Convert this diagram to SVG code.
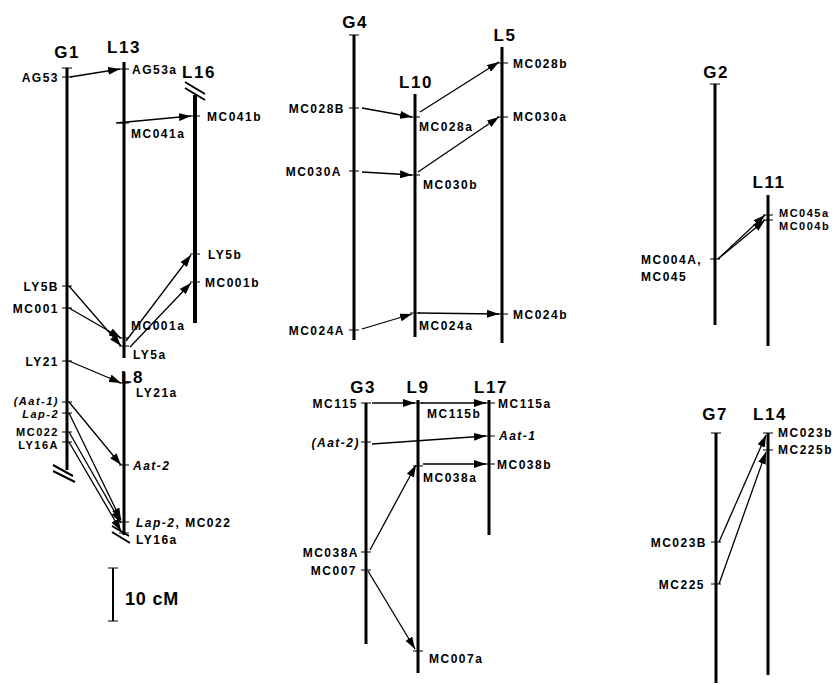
<svg xmlns="http://www.w3.org/2000/svg" width="836" height="685" viewBox="0 0 836 685">
<defs>
<marker id="ah" markerUnits="userSpaceOnUse" markerWidth="13" markerHeight="8" refX="12" refY="4" orient="auto">
<path d="M0,0 L12,4 L0,8 z" fill="#000"/>
</marker>
</defs>
<style>
.chr{stroke:#000;stroke-width:3;fill:none}
.tk{stroke:#000;stroke-width:1;fill:none}
.br{stroke:#000;stroke-width:2;fill:none}
.cn{stroke:#000;stroke-width:1.3;fill:none;marker-end:url(#ah)}
.t{font-family:"Liberation Sans",Arial,sans-serif;font-weight:bold;font-size:17px;letter-spacing:1.5px;text-anchor:middle;fill:#000}
.m{font-family:"Liberation Sans",Arial,sans-serif;font-weight:bold;font-size:12px;letter-spacing:1.5px;fill:#000}
.s{font-size:11px}
.e{text-anchor:end}
.i{font-style:italic}
</style>
<rect width="836" height="685" fill="#fff"/>

<g id="G1">
<line class="chr" x1="67" y1="68" x2="67" y2="470"/>
<text class="t" x="67" y="58">G1</text>
<path class="tk" d="M62,68h10M62,77h10M62,286h10M62,308h10M62,361h10M62,402h10M62,413h10M62,432h10M62,442h10"/>
<path class="br" d="M53,465l20,11M53,471l22,11"/>
<text class="m e" x="59" y="82">AG53</text>
<text class="m e" x="59" y="291">LY5B</text>
<text class="m e" x="59" y="313">MC001</text>
<text class="m e" x="59" y="366">LY21</text>
<text class="m s e i" x="59" y="405">(Aat-1)</text>
<text class="m s e i" x="59" y="418">Lap-2</text>
<text class="m s e" x="59" y="436">MC022</text>
<text class="m s e" x="59" y="449">LY16A</text>
</g>

<g id="L13">
<line class="chr" x1="124" y1="62" x2="124" y2="358"/>
<text class="t" x="124" y="53">L13</text>
<path class="tk" d="M119,69h10M119,123h10M119,338h10M119,346h10"/>
<text class="m" x="132" y="74">AG53a</text>
<text class="m" x="131" y="138">MC041a</text>
<text class="m" x="131" y="330">MC001a</text>
<text class="m" x="133" y="359">LY5a</text>
</g>

<g id="L16">
<line class="chr" x1="195" y1="95" x2="195" y2="323" style="stroke-width:4"/>
<text class="t" x="199" y="78">L16</text>
<path class="br" d="M185,82l20,12M185,88l20,12"/>
<path class="tk" d="M190,116h10M190,254h10M190,282h10"/>
<text class="m" x="207" y="121">MC041b</text>
<text class="m" x="208" y="259">LY5b</text>
<text class="m" x="205" y="287">MC001b</text>
</g>

<g id="L8">
<line class="chr" x1="124" y1="372" x2="124" y2="535"/>
<text class="t" x="121" y="383" style="text-anchor:start">L8</text>
<path class="tk" d="M119,383h10M119,465h10M119,522h10M119,533h10"/>
<path class="br" d="M112,526l17,10M112,532l18,11"/>
<text class="m" x="136" y="397">LY21a</text>
<text class="m i" x="133" y="470">Aat-2</text>
<text class="m" x="136" y="527"><tspan class="i">Lap-2</tspan>, MC022</text>
<text class="m" x="136" y="544">LY16a</text>
</g>

<g id="scale">
<path class="chr" d="M113,568V621" style="stroke-width:2"/>
<path class="tk" d="M108,568h10M108,621h10"/>
<text class="m" x="125" y="605" style="font-size:18px;letter-spacing:0.8px">10 cM</text>
</g>

<g id="G4">
<line class="chr" x1="354" y1="35" x2="354" y2="340"/>
<text class="t" x="355" y="28">G4</text>
<path class="tk" d="M349,35h10M349,108h10M349,171h10M349,330h10"/>
<text class="m e" x="345" y="113">MC028B</text>
<text class="m e" x="342" y="176">MC030A</text>
<text class="m e" x="345" y="335">MC024A</text>
</g>

<g id="L10">
<line class="chr" x1="415" y1="94" x2="415" y2="337"/>
<text class="t" x="416" y="88">L10</text>
<path class="tk" d="M410,117h10M410,175h10M410,313h10"/>
<text class="m" x="419" y="131">MC028a</text>
<text class="m" x="423" y="189">MC030b</text>
<text class="m" x="419" y="330">MC024a</text>
</g>

<g id="L5">
<line class="chr" x1="502" y1="47" x2="502" y2="343"/>
<text class="t" x="505" y="41">L5</text>
<path class="tk" d="M497,63h11M497,117h11M497,314h11"/>
<text class="m" x="513" y="68">MC028b</text>
<text class="m" x="513" y="121">MC030a</text>
<text class="m" x="513" y="319">MC024b</text>
</g>

<g id="G3">
<line class="chr" x1="366" y1="403" x2="366" y2="644"/>
<text class="t" x="363" y="393">G3</text>
<path class="tk" d="M361,403h10M361,442h10M361,552h10M361,570h10"/>
<text class="m e" x="358" y="408">MC115</text>
<text class="m e i" x="360" y="447">(Aat-2)</text>
<text class="m e" x="359" y="557">MC038A</text>
<text class="m e" x="357" y="575">MC007</text>
</g>

<g id="L9">
<line class="chr" x1="418" y1="400" x2="418" y2="673"/>
<text class="t" x="418" y="393">L9</text>
<path class="tk" d="M413,403h10M413,466h10M413,651h10"/>
<text class="m" x="427" y="418">MC115b</text>
<text class="m" x="423" y="482">MC038a</text>
<text class="m" x="429" y="663">MC007a</text>
</g>

<g id="L17">
<line class="chr" x1="489" y1="400" x2="489" y2="535"/>
<text class="t" x="491" y="393">L17</text>
<path class="tk" d="M484,403h11M484,436h11M484,464h11"/>
<text class="m" x="498" y="408">MC115a</text>
<text class="m i" x="499" y="440">Aat-1</text>
<text class="m" x="497" y="469">MC038b</text>
</g>

<g id="G2">
<line class="chr" x1="715" y1="84" x2="715" y2="325"/>
<text class="t" x="716" y="78">G2</text>
<path class="tk" d="M710,84h10M710,259h10"/>
<text class="m" x="641" y="264">MC004A,</text>
<text class="m" x="641" y="281">MC045</text>
</g>

<g id="L11">
<line class="chr" x1="768" y1="195" x2="768" y2="346"/>
<text class="t" x="769" y="188">L11</text>
<path class="tk" d="M763,215h10M763,220h10"/>
<text class="m s" x="779" y="217">MC045a</text>
<text class="m s" x="779" y="230">MC004b</text>
</g>

<g id="G7">
<line class="chr" x1="716" y1="433" x2="716" y2="683"/>
<text class="t" x="715" y="420">G7</text>
<path class="tk" d="M711,433h10M711,542h10M711,584h10"/>
<text class="m e" x="707" y="547">MC023B</text>
<text class="m e" x="705" y="589">MC225</text>
</g>

<g id="L14">
<line class="chr" x1="768" y1="433" x2="768" y2="675"/>
<text class="t" x="770" y="420">L14</text>
<path class="tk" d="M763,433h10M763,450h10"/>
<text class="m" x="778" y="437">MC023b</text>
<text class="m" x="778" y="454">MC225b</text>
</g>

<g id="connectors">
<line class="cn" x1="70" y1="77" x2="120" y2="69"/>
<line class="cn" x1="116" y1="123" x2="191" y2="116"/>
<line class="cn" x1="69" y1="286" x2="121" y2="346"/>
<line class="cn" x1="69" y1="308" x2="121" y2="338"/>
<line class="cn" x1="126" y1="341" x2="191" y2="255"/>
<line class="cn" x1="130" y1="347" x2="191" y2="283"/>
<line class="cn" x1="69" y1="361" x2="121" y2="383"/>
<line class="cn" x1="69" y1="402" x2="121" y2="465"/>
<line class="cn" x1="69" y1="413" x2="121" y2="520"/>
<line class="cn" x1="69" y1="432" x2="121" y2="523"/>
<line class="cn" x1="69" y1="442" x2="121" y2="531"/>
<line class="cn" x1="362" y1="108" x2="412" y2="117"/>
<line class="cn" x1="362" y1="172" x2="412" y2="175"/>
<line class="cn" x1="362" y1="329" x2="412" y2="314"/>
<line class="cn" x1="420" y1="112" x2="499" y2="62"/>
<line class="cn" x1="418" y1="172" x2="499" y2="117"/>
<line class="cn" x1="418" y1="313" x2="499" y2="314"/>
<line class="cn" x1="372" y1="403" x2="415" y2="403"/>
<line class="cn" x1="421" y1="403" x2="486" y2="403"/>
<line class="cn" x1="372" y1="444" x2="486" y2="436"/>
<line class="cn" x1="370" y1="550" x2="416" y2="465"/>
<line class="cn" x1="423" y1="464" x2="486" y2="464"/>
<line class="cn" x1="368" y1="571" x2="415" y2="649"/>
<line class="cn" x1="718" y1="259" x2="765" y2="215"/>
<line class="cn" x1="718" y1="259" x2="765" y2="220"/>
<line class="cn" x1="719" y1="542" x2="766" y2="435"/>
<line class="cn" x1="719" y1="584" x2="766" y2="452"/>
</g>
</svg>
